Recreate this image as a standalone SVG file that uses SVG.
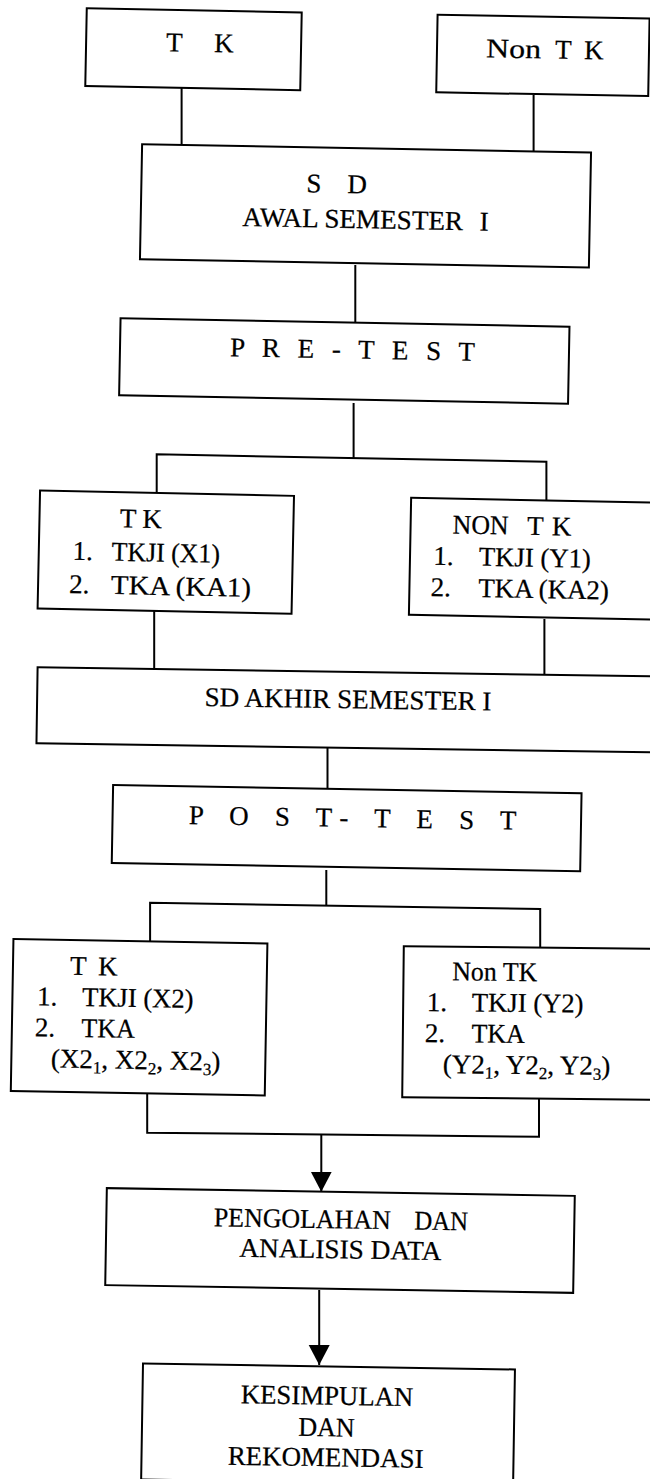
<svg xmlns="http://www.w3.org/2000/svg" width="650" height="1479" viewBox="0 0 650 1479">
<style>
.box{fill:#fff;stroke:#000;stroke-width:2}
.ln{fill:none;stroke:#000;stroke-width:2}
text{font-family:"Liberation Serif","Times New Roman",serif;fill:#000;font-size:27px;stroke:#000;stroke-width:0.25}
.sub{font-size:17px}
</style>
<defs>
<marker id="ah" markerUnits="userSpaceOnUse" markerWidth="21" markerHeight="22" refX="20" refY="10.5" orient="auto">
<path d="M0,0 L20,10.5 L0,21 z" fill="#000"/>
</marker>
</defs>
<rect x="0" y="0" width="650" height="1479" fill="#fff"/>

<g id="connectors">
<line class="ln" x1="181.6" y1="88" x2="181.6" y2="146"/>
<line class="ln" x1="533.6" y1="95" x2="533.6" y2="152"/>
<line class="ln" x1="355.3" y1="265" x2="355.3" y2="323"/>
<line class="ln" x1="353.6" y1="403" x2="353.6" y2="458"/>
<path class="ln" d="M156.7,492 V454.3 L546.4,461.7 V500"/>
<line class="ln" x1="154.2" y1="611" x2="154.2" y2="669"/>
<line class="ln" x1="544.4" y1="619" x2="544.4" y2="676"/>
<line class="ln" x1="327.5" y1="748" x2="327.5" y2="789"/>
<line class="ln" x1="326.3" y1="870" x2="326.3" y2="906"/>
<path class="ln" d="M150.1,941 V902.7 L540.2,909 V948"/>
<path class="ln" d="M147.2,1094 V1132.7 L539,1136.7 V1099"/>
<line class="ln" x1="321.3" y1="1135" x2="321.3" y2="1191.7" marker-end="url(#ah)"/>
<line class="ln" x1="319.2" y1="1290" x2="319.2" y2="1365" marker-end="url(#ah)"/>
</g>

<g id="tk-top" transform="rotate(1.1 193.5 49.3)">
<rect class="box" x="86" y="10.4" width="215" height="77.7"/>
<text y="51.7" font-size="29"><tspan x="166">T</tspan><tspan x="214">K</tspan></text>
</g>

<g id="nontk-top" transform="rotate(1 542.9 55.4)">
<rect class="box" x="436.9" y="16.7" width="212" height="77.5"/>
<text y="58.3" font-size="30"><tspan x="486" textLength="55" lengthAdjust="spacingAndGlyphs">Non</tspan><tspan x="555">T</tspan><tspan x="584">K</tspan></text>
</g>

<g id="sd-awal" transform="rotate(1.07 365.5 205.9)">
<rect class="box" x="141" y="148.4" width="449" height="115"/>
<text y="193.3" font-size="34"><tspan x="306">S</tspan><tspan x="347">D</tspan></text>
<text y="228.3" font-size="28.5"><tspan x="242.7" textLength="220.6" lengthAdjust="spacingAndGlyphs">AWAL SEMESTER</tspan><tspan x="480">I</tspan></text>
</g>

<g id="pre-test" transform="rotate(1.07 344.3 361)">
<rect class="box" x="119.8" y="322.5" width="449" height="77"/>
<text x="230" y="358.3" font-size="25.5" textLength="244.7" lengthAdjust="spacing">P R E - T E S T</text>
</g>

<g id="tk-pre" transform="rotate(1.2 165.8 552.2)">
<rect class="box" x="38.8" y="493.2" width="254" height="118"/>
<text y="528.3" font-size="24"><tspan x="119.3">T</tspan><tspan x="141.7">K</tspan></text>
<text y="561.7" font-size="28"><tspan x="72.7">1.</tspan><tspan x="111.7" textLength="108.3" lengthAdjust="spacingAndGlyphs">TKJI (X1)</tspan></text>
<text y="595" font-size="28"><tspan x="70">2.</tspan><tspan x="111.7" textLength="140" lengthAdjust="spacingAndGlyphs">TKA (KA1)</tspan></text>
</g>

<g id="nontk-pre" transform="rotate(1.1 536 558.7)">
<rect class="box" x="410" y="500.2" width="252" height="117"/>
<text y="535" font-size="25.5"><tspan x="452" textLength="56" lengthAdjust="spacingAndGlyphs">NON</tspan><tspan x="526.5">T</tspan><tspan x="551.4">K</tspan></text>
<text y="566.7" font-size="27.5"><tspan x="433.3">1.</tspan><tspan x="478.9" textLength="112" lengthAdjust="spacingAndGlyphs">TKJI (Y1)</tspan></text>
<text y="598" font-size="27.5"><tspan x="431.2">2.</tspan><tspan x="478.9" textLength="130.6" lengthAdjust="spacingAndGlyphs">TKA (KA2)</tspan></text>
</g>

<g id="sd-akhir" transform="rotate(0.85 352 709.9)">
<rect class="box" x="37" y="671.9" width="630" height="76"/>
<text x="204.4" y="708.3" font-size="28.5" textLength="287" lengthAdjust="spacingAndGlyphs">SD AKHIR SEMESTER I</text>
</g>

<g id="post-test" transform="rotate(1 346.6 828.1)">
<rect class="box" x="112.4" y="789.1" width="468.5" height="78"/>
<text x="188.6" y="826.7" font-size="25.5" textLength="327.6" lengthAdjust="spacing">P O S T- T E S T</text>
</g>

<g id="tk-post" transform="rotate(1 139.1 1017.3)">
<rect class="box" x="12.1" y="941.3" width="254" height="152"/>
<text y="976"><tspan x="69.3">T</tspan><tspan x="97.3">K</tspan></text>
<text y="1007"><tspan x="36.7">1.</tspan><tspan x="81.7" textLength="111.6" lengthAdjust="spacingAndGlyphs">TKJI (X2)</tspan></text>
<text y="1038"><tspan x="35">2.</tspan><tspan x="81.7" textLength="53.3" lengthAdjust="spacingAndGlyphs">TKA</tspan></text>
<text x="51.7" y="1069">(X2<tspan class="sub" dy="5">1</tspan><tspan dy="-5">, X2</tspan><tspan class="sub" dy="5">2</tspan><tspan dy="-5">, X2</tspan><tspan class="sub" dy="5">3</tspan><tspan dy="-5">)</tspan></text>
</g>

<g id="nontk-post" transform="rotate(0.6 530 1023)">
<rect class="box" x="403" y="947.5" width="254" height="151"/>
<text x="451.7" y="981" textLength="85" lengthAdjust="spacingAndGlyphs">Non TK</text>
<text y="1012"><tspan x="426.7">1.</tspan><tspan x="471.7" textLength="111.6" lengthAdjust="spacingAndGlyphs">TKJI (Y2)</tspan></text>
<text y="1043"><tspan x="425">2.</tspan><tspan x="471.7" textLength="53.3" lengthAdjust="spacingAndGlyphs">TKA</tspan></text>
<text x="443.3" y="1074">(Y2<tspan class="sub" dy="5">1</tspan><tspan dy="-5">, Y2</tspan><tspan class="sub" dy="5">2</tspan><tspan dy="-5">, Y2</tspan><tspan class="sub" dy="5">3</tspan><tspan dy="-5">)</tspan></text>
</g>

<g id="pengolahan" transform="rotate(0.95 340 1240.5)">
<rect class="box" x="106" y="1192" width="468" height="97"/>
<text y="1228.3" font-size="27.5"><tspan x="213.5" textLength="177" lengthAdjust="spacingAndGlyphs">PENGOLAHAN</tspan><tspan x="414" textLength="53.7" lengthAdjust="spacingAndGlyphs">DAN</tspan></text>
<text x="239.6" y="1258.3" font-size="27.5" textLength="202" lengthAdjust="spacingAndGlyphs">ANALISIS DATA</text>
</g>

<g id="kesimpulan" transform="rotate(0.92 143 1363.5)">
<rect class="box" x="143" y="1363.5" width="372" height="116"/>
<text x="241.3" y="1401.7" font-size="28" textLength="172.5" lengthAdjust="spacingAndGlyphs">KESIMPULAN</text>
<text x="299.3" y="1433.3" font-size="28" textLength="56.4" lengthAdjust="spacingAndGlyphs">DAN</text>
<text x="229.3" y="1463.3" font-size="28" textLength="195.7" lengthAdjust="spacingAndGlyphs">REKOMENDASI</text>
</g>
</svg>
